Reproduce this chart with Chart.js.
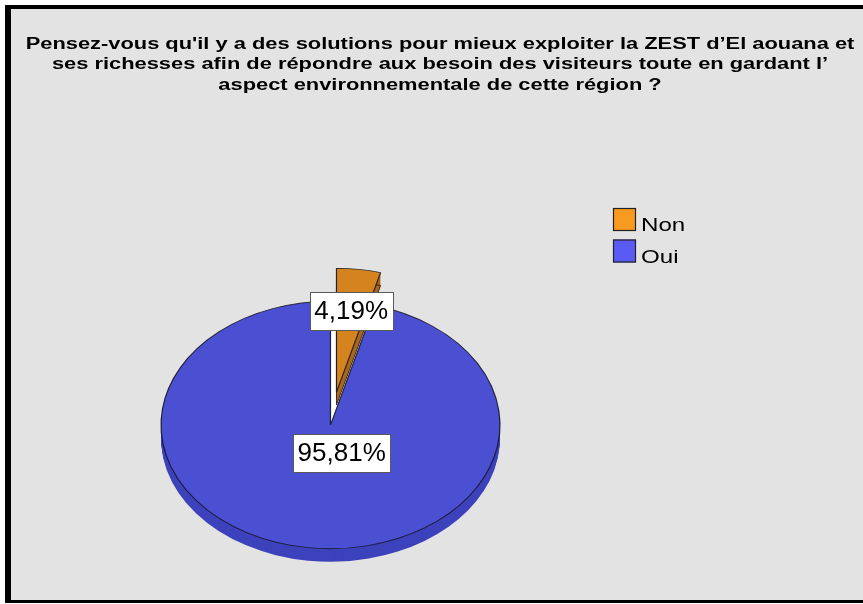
<!DOCTYPE html>
<html>
<head>
<meta charset="utf-8">
<script src="https://cdn.jsdelivr.net/npm/chart.js@4.4.1/dist/chart.umd.min.js"></script>
<style>
  html, body { margin: 0; padding: 0; background: #ffffff; }
  canvas { display: block; }
</style>
</head>
<body>
<canvas id="chart" width="863" height="604"></canvas>
<script>
// ---- data ----
const categories = ['Non', 'Oui'];
const percentages = [4.19, 95.81];
const titleLines = [
  "Pensez-vous qu'il y a des solutions pour mieux exploiter la ZEST d’El aouana et",
  "ses richesses afin de répondre aux besoin des visiteurs toute en gardant l’",
  "aspect environnementale de cette région ?"
];

// ---- styling ----
const topColors = ['#d4831f', '#4b4fd1'];
const sideColors = ['#a8661a', '#3d42bc'];
const legendColors = ['#f79a1f', '#5a5af5'];
const explodeBy = [45.5, 0];            // radial pull-out of each slice (circle units)
const labelOffsets = [                  // label centre relative to the slice apex
  { dx: 14.7, dy: -81 },
  { dx: 11.2, dy: 28 }
];
const PIE = { cx: 330.5, cy: 425, radius: 169.5, tilt: 0.73, depth: 13 };
const FONT = '"Liberation Sans", Arial, sans-serif';
const TITLE_STRETCH = 1.366;            // wide rendering of the heading
const LEGEND_STRETCH = 1.27;

const formatPct = v => v.toFixed(2).replace('.', ',') + '%';

// Frame and panel background
const framePlugin = {
  id: 'frame',
  beforeDraw(chart) {
    const { ctx, width, height } = chart;
    ctx.save();
    ctx.fillStyle = '#ffffff';
    ctx.fillRect(0, 0, width, height);
    ctx.fillStyle = '#000000';
    ctx.fillRect(5, 5, width + 20, 598);
    ctx.fillStyle = '#e3e3e3';
    ctx.fillRect(11, 9, width + 20, 591);
    ctx.restore();
  }
};

// Put the pie centre where it belongs, and widen the heading
const placePlugin = {
  id: 'place',
  afterLayout(chart) {
    const r = PIE.radius;
    Object.assign(chart.chartArea, {
      left: PIE.cx - r, right: PIE.cx + r,
      top: PIE.cy - r, bottom: PIE.cy + r,
      width: 2 * r, height: 2 * r
    });
    const tb = chart.titleBlock;
    if (tb && !tb._stretched) {
      const original = tb.draw.bind(tb);
      tb.draw = function () {
        const ctx = chart.ctx;
        const mid = (tb.left + tb.right) / 2;
        ctx.save();
        ctx.translate(mid, 0);
        ctx.scale(TITLE_STRETCH, 1);
        ctx.translate(-mid, 0);
        original();
        ctx.restore();
      };
      tb._stretched = true;
    }
  }
};

// Tilted, extruded pie built from the controller's arc elements
const pie3dPlugin = {
  id: 'pie3d',
  beforeDatasetsDraw(chart) {
    const ctx = chart.ctx;
    const arcs = chart.getDatasetMeta(0).data;
    const tilt = PIE.tilt;

    const drawAs = (el, overrides, dx, dy) => {
      const proxy = Object.create(el);
      proxy.options = Object.assign({}, el.options, overrides);
      ctx.save();
      ctx.translate(el.x + dx, el.y + dy);
      ctx.scale(1, tilt);
      ctx.translate(-el.x, -el.y);
      proxy.draw(ctx);
      ctx.restore();
    };
    const shift = (el, i) => {
      const mid = (el.startAngle + el.endAngle) / 2;
      return { x: Math.cos(mid) * explodeBy[i], y: Math.sin(mid) * explodeBy[i] * tilt };
    };
    const outline = 'rgba(20,20,30,0.85)';

    // main body (slices that stay in place)
    arcs.forEach((el, i) => {
      if (explodeBy[i]) return;
      for (let d = PIE.depth; d >= 1; d--) {
        drawAs(el, { backgroundColor: sideColors[i], borderWidth: 0 }, 0, d);
      }
    });
    arcs.forEach((el, i) => {
      if (explodeBy[i]) {
        // empty wedge left behind by the pulled-out slice
        drawAs(el, { backgroundColor: '#ffffff', borderWidth: 1, borderColor: 'rgba(120,120,120,0.8)' }, 0, 0);
      } else {
        drawAs(el, { backgroundColor: topColors[i], borderWidth: 1.2, borderColor: outline }, 0, 0);
      }
    });
    // pulled-out slices
    arcs.forEach((el, i) => {
      if (!explodeBy[i]) return;
      const s = shift(el, i);
      for (let d = PIE.depth; d >= 1; d--) {
        drawAs(el, { backgroundColor: sideColors[i], borderWidth: 0 }, s.x, s.y + d);
      }
      drawAs(el, { backgroundColor: sideColors[i], borderWidth: 1, borderColor: outline }, s.x, s.y + PIE.depth);
      drawAs(el, { backgroundColor: topColors[i], borderWidth: 1.2, borderColor: outline }, s.x, s.y);
    });

    // value labels in boxes
    ctx.save();
    ctx.font = '26px ' + FONT;
    ctx.textAlign = 'center';
    ctx.textBaseline = 'middle';
    arcs.forEach((el, i) => {
      const s = shift(el, i);
      const x = el.x + s.x + labelOffsets[i].dx;
      const y = el.y + s.y + labelOffsets[i].dy;
      const text = formatPct(percentages[i]);
      const w = ctx.measureText(text).width + 9;
      const h = 38;
      ctx.fillStyle = '#ffffff';
      ctx.fillRect(Math.round(x - w / 2) + 0.5, Math.round(y - h / 2) + 0.5, Math.round(w), h);
      ctx.strokeStyle = '#5a5a5a';
      ctx.lineWidth = 1;
      ctx.strokeRect(Math.round(x - w / 2) + 0.5, Math.round(y - h / 2) + 0.5, Math.round(w), h);
      ctx.fillStyle = '#000000';
      ctx.fillText(text, x, y + 1);
    });
    ctx.restore();
    return false;
  },
  afterDraw(chart) {
    // legend
    const ctx = chart.ctx;
    ctx.save();
    ctx.font = '19px ' + FONT;
    ctx.textBaseline = 'alphabetic';
    ctx.textAlign = 'left';
    chart.data.labels.forEach((lab, i) => {
      const bx = 613, by = 208 + i * 31.5, bs = 23;
      ctx.fillStyle = legendColors[i];
      ctx.fillRect(bx, by, bs, bs);
      ctx.strokeStyle = '#222222';
      ctx.lineWidth = 1.2;
      ctx.strokeRect(bx + 0.5, by + 0.5, bs - 1, bs - 1);
      ctx.fillStyle = '#000000';
      const tx = bx + bs + 5;
      ctx.save();
      ctx.translate(tx, 0);
      ctx.scale(LEGEND_STRETCH, 1);
      ctx.fillText(lab, 0, by + bs);
      ctx.restore();
    });
    ctx.restore();
  }
};

new Chart(document.getElementById('chart'), {
  type: 'pie',
  data: {
    labels: categories,
    datasets: [{
      data: percentages,
      backgroundColor: topColors,
      borderWidth: 0
    }]
  },
  options: {
    responsive: false,
    animation: false,
    devicePixelRatio: 1,
    events: [],
    radius: PIE.radius,
    layout: { padding: { left: 17, right: 0, top: 0, bottom: 0 } },
    plugins: {
      legend: { display: false },
      tooltip: { enabled: false },
      title: {
        display: true,
        text: titleLines,
        color: '#000000',
        font: { family: FONT, size: 16, weight: 'bold', lineHeight: 1.29 },
        padding: { top: 34, bottom: 10 }
      }
    }
  },
  plugins: [framePlugin, placePlugin, pie3dPlugin]
});
</script>
</body>
</html>
